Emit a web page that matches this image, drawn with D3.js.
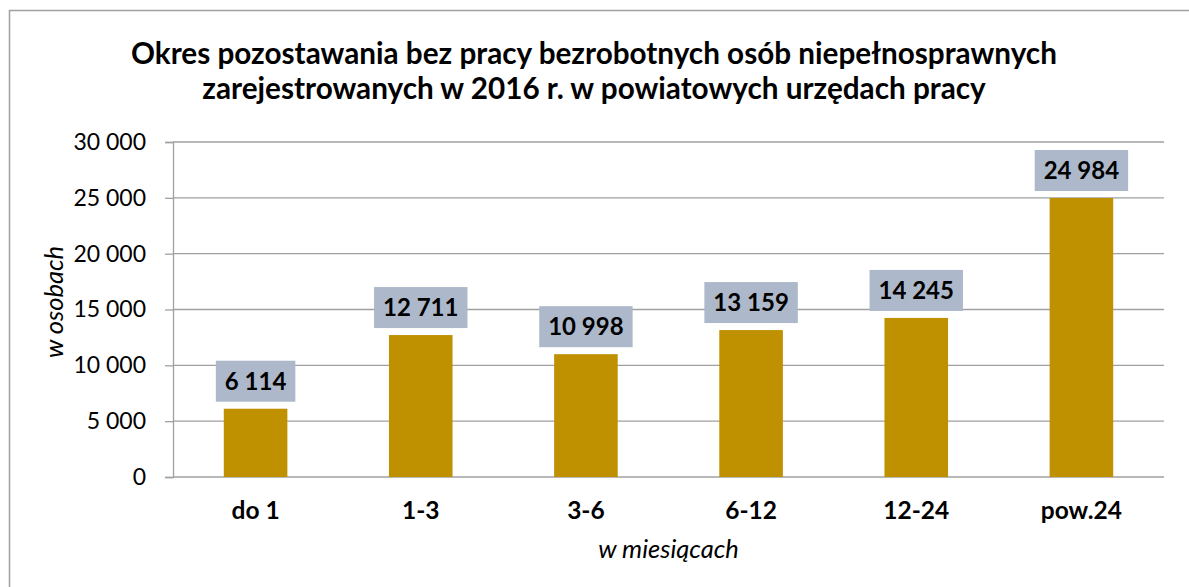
<!DOCTYPE html>
<html>
<head>
<meta charset="utf-8">
<script src="https://cdn.jsdelivr.net/npm/d3@7"></script>
<style>
  body { margin: 0; background: #fff; }
  svg { display: block; font-family: Lato, "Open Sans", sans-serif; }
</style>
</head>
<body>
<svg id="chart" width="1189" height="587"></svg>
<script>
// data
const categories = ["do 1", "1-3", "3-6", "6-12", "12-24", "pow.24"];
const values = [6114, 12711, 10998, 13159, 14245, 24984];
const y_ticks = [0, 5000, 10000, 15000, 20000, 25000, 30000];
const title_lines = [
    "Okres pozostawania bez pracy bezrobotnych osób niepełnosprawnych",
    "zarejestrowanych w 2016 r. w powiatowych urzędach pracy"
];

const width = 1189;
const height = 587;
const margin = {top: 142, right: 25, bottom: 110, left: 173};
const bar_color = "#BF9000";
const box_color = "#ADB9CA";
const grid_color = "#A0A0A0";

const svg = d3.select("#chart");

// outer border (only top and left visible)
svg.append("rect")
    .attr("x", 9.5).attr("y", 10.5)
    .attr("width", 1300).attr("height", 700)
    .attr("fill", "none")
    .attr("stroke", "#A0A0A0")
    .attr("stroke-width", 1.5);

const fmt = v => d3.format(",")(v).replace(/,/g, " ");

const x = d3.scaleBand()
    .domain(categories)
    .range([margin.left, width - margin.right])
    .padding(0);

const y = d3.scaleLinear()
    .domain([0, 30000])
    .range([height - margin.bottom, margin.top]);

const bar_w = x.bandwidth() * 0.385;

// gridlines
svg.append("g")
    .selectAll("line")
    .data(y_ticks.slice(1))
    .join("line")
    .attr("x1", margin.left).attr("x2", width - margin.right)
    .attr("y1", d => y(d)).attr("y2", d => y(d))
    .attr("stroke", grid_color)
    .attr("stroke-width", 1.3);

// y axis
const yAxis = svg.append("g")
    .attr("transform", `translate(${margin.left},0)`)
    .call(d3.axisLeft(y).tickValues(y_ticks).tickSize(8).tickPadding(19).tickFormat(fmt));
yAxis.select(".domain").attr("stroke", grid_color).attr("stroke-width", 1.3);
yAxis.selectAll(".tick line").attr("stroke", grid_color).attr("stroke-width", 1.3);
yAxis.selectAll(".tick text")
    .attr("font-size", "23px")
    .attr("font-family", "Lato, sans-serif")
    .attr("fill", "#000");

// x baseline
svg.append("line")
    .attr("x1", margin.left).attr("x2", width - margin.right)
    .attr("y1", y(0)).attr("y2", y(0))
    .attr("stroke", grid_color)
    .attr("stroke-width", 1.3);

// bars
svg.append("g")
    .selectAll("rect")
    .data(values)
    .join("rect")
    .attr("x", (d, i) => x(categories[i]) + x.bandwidth() / 2 - bar_w / 2)
    .attr("y", d => y(d))
    .attr("width", bar_w)
    .attr("height", d => y(0) - y(d))
    .attr("fill", bar_color);

// data labels with boxes
const labels = svg.append("g")
    .selectAll("g")
    .data(values)
    .join("g")
    .attr("transform", (d, i) => `translate(${x(categories[i]) + x.bandwidth() / 2},${y(d) - 7 - 20.5})`);

labels.append("rect").attr("class", "box");
labels.append("text")
    .attr("text-anchor", "middle")
    .attr("dy", "0.36em")
    .attr("font-size", "24px")
    .attr("font-weight", "bold")
    .attr("fill", "#000")
    .text(d => fmt(d));
labels.each(function() {
    const g = d3.select(this);
    const tw = g.select("text").node().getComputedTextLength();
    g.select("rect")
        .attr("x", -tw / 2 - 9)
        .attr("y", -20.5)
        .attr("width", tw + 18)
        .attr("height", 41)
        .attr("fill", box_color);
});

// category labels
svg.append("g")
    .selectAll("text")
    .data(categories)
    .join("text")
    .attr("x", d => x(d) + x.bandwidth() / 2)
    .attr("y", 519)
    .attr("text-anchor", "middle")
    .attr("font-size", "24.5px")
    .attr("font-weight", "bold")
    .text(d => d);

// axis titles
svg.append("text")
    .attr("x", (margin.left + width - margin.right) / 2)
    .attr("y", 558)
    .attr("text-anchor", "middle")
    .attr("font-size", "25.5px")
    .attr("font-style", "italic")
    .text("w miesiącach");

svg.append("text")
    .attr("transform", "translate(63,302) rotate(-90)")
    .attr("text-anchor", "middle")
    .attr("font-size", "25.5px")
    .attr("font-style", "italic")
    .text("w osobach");

// title
svg.append("text")
    .attr("x", 594)
    .attr("text-anchor", "middle")
    .attr("font-size", "29.7px")
    .attr("font-weight", "bold")
    .selectAll("tspan")
    .data(title_lines)
    .join("tspan")
    .attr("x", 594)
    .attr("y", (d, i) => 64 + i * 35)
    .text(d => d);
</script>
</body>
</html>
